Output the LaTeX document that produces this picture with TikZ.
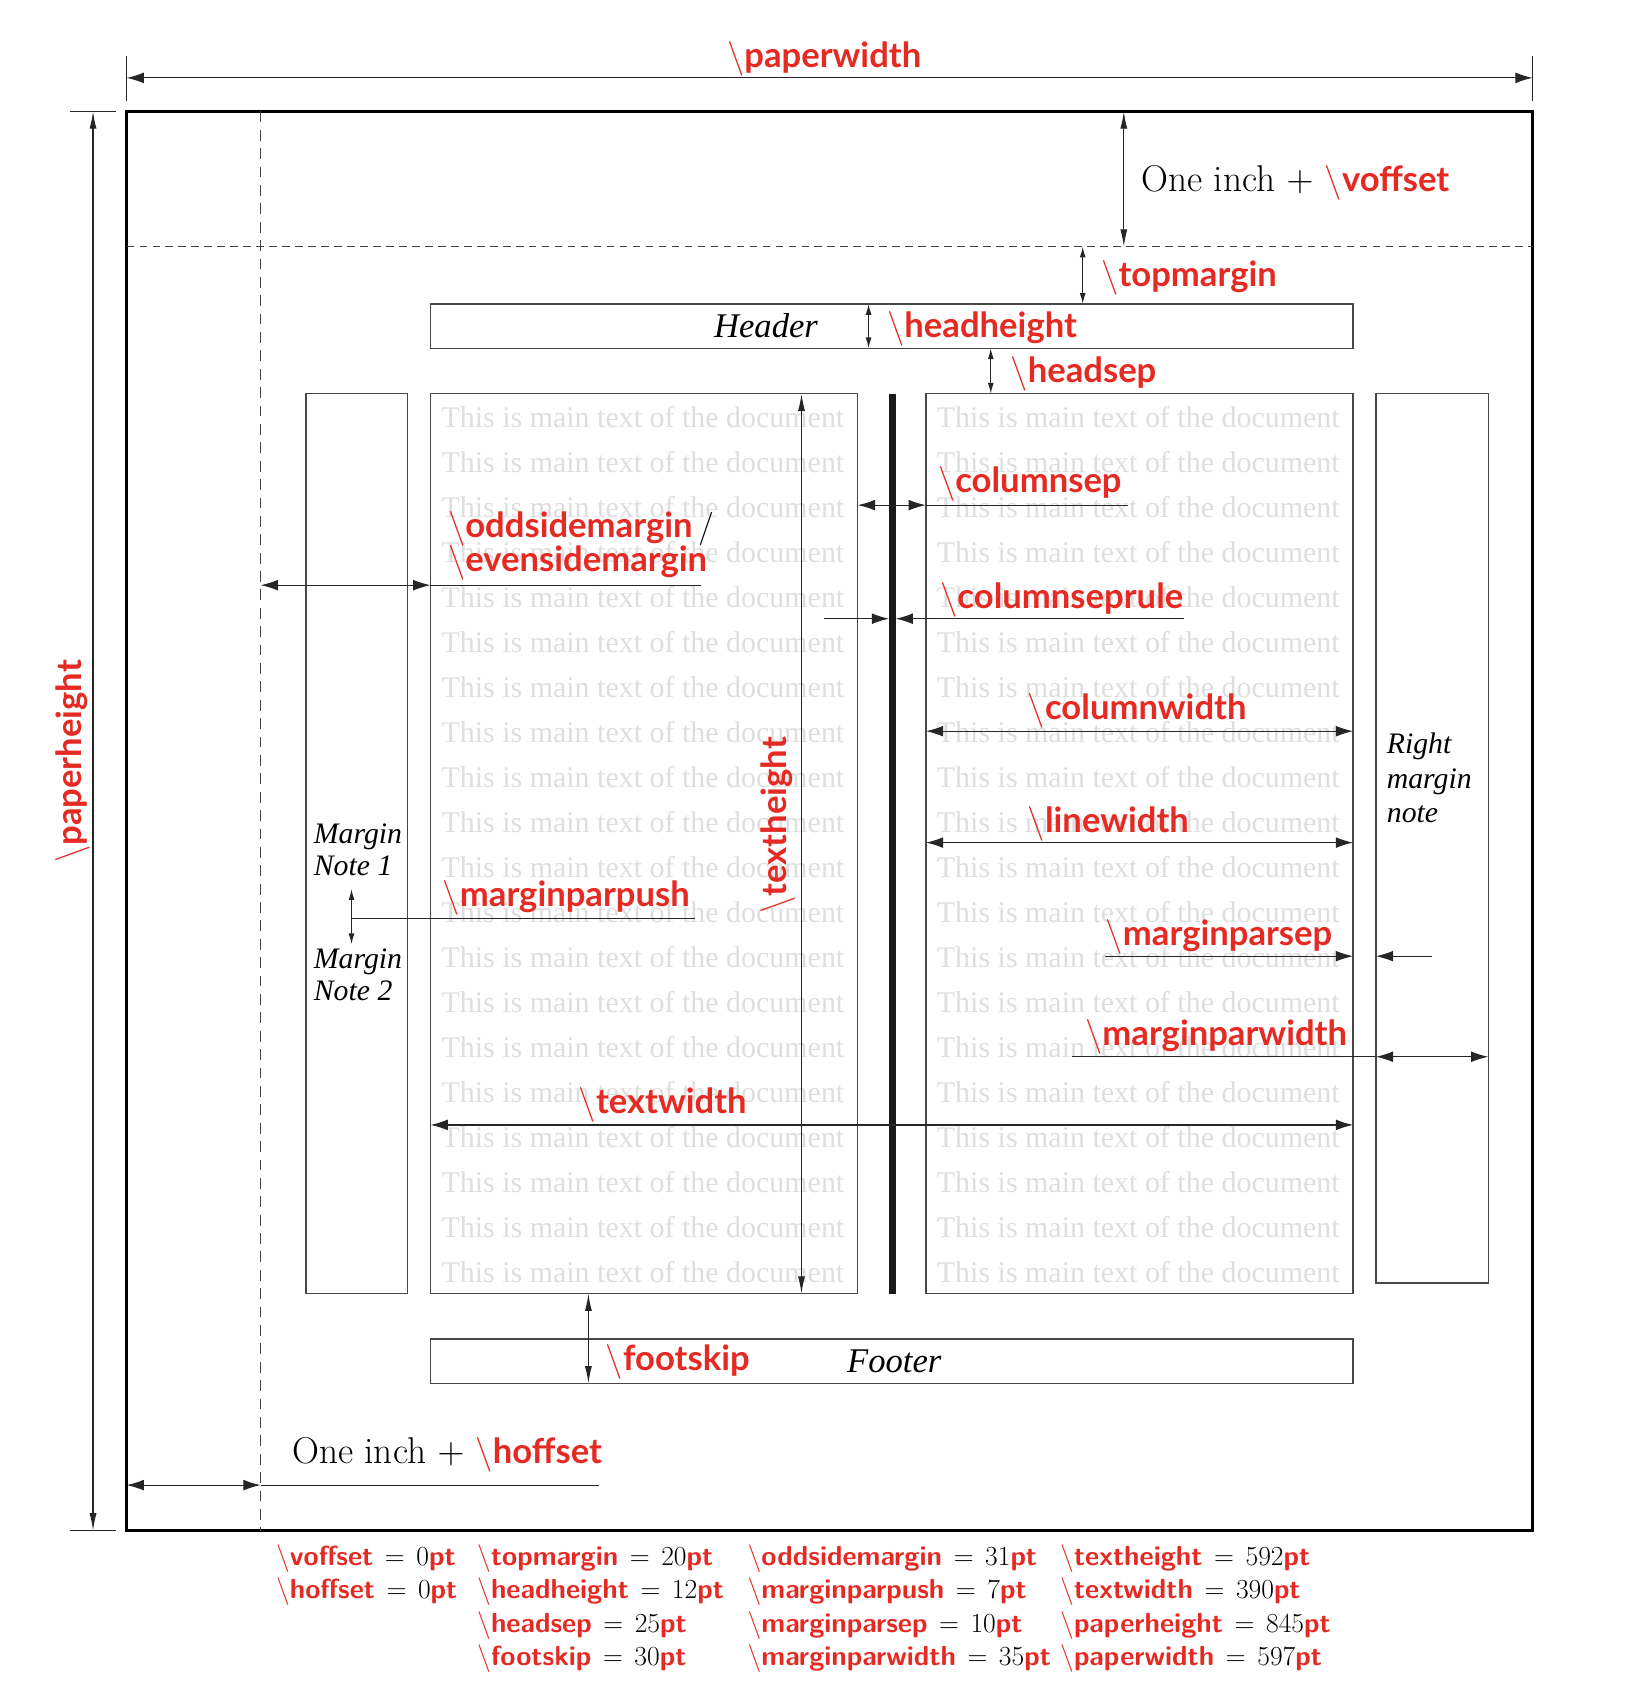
\RequirePackage{fix-cm}
\documentclass[tikz,border=0pt]{standalone}
\usepackage{fontspec}
\usetikzlibrary{arrows.meta}
\newfontfamily\lato{Lato}
\newfontfamily\tnr{Liberation Serif}
\definecolor{lred}{RGB}{228,42,34}
\newcommand\redlab[1]{{\fontsize{32}{32}\selectfont\lato\bfseries\color{lred}$\backslash$#1}}
\newcommand\tabcell[2]{{\color{lred}$\backslash$\textsf{\bfseries #1}}\hspace{0.42em}$=$\hspace{0.42em}#2{\color{lred}\textsf{\bfseries pt}}}
\tikzset{
  tH/.tip={Latex[length=16pt,width=10pt]},
  tV/.tip={Latex[length=16pt,width=6.5pt]},
  tS/.tip={Latex[length=10pt,width=5.5pt]},
  box/.style={draw=black!72, line width=1.3pt},
  dim/.style={draw=black!85, line width=1.1pt},
  maintext/.style={anchor=base west, inner sep=0pt, text=black!13, font=\fontsize{27.7}{30}\selectfont\tnr},
  note/.style={anchor=base west, inner sep=0pt, font=\fontsize{27.5}{30}\selectfont\tnr\itshape},
  hf/.style={anchor=base west, inner sep=0pt, font=\fontsize{32}{32}\selectfont\tnr\itshape},
  lab/.style={anchor=base west, inner sep=0pt, text=lred, font=\fontsize{32}{32}\selectfont\lato\bfseries},
  inch/.style={anchor=base west, inner sep=0pt, font=\fontsize{34.5}{34.5}\selectfont},
  tab/.style={anchor=base west, inner sep=0pt, font=\fontsize{25.5}{30}\selectfont},
}
\begin{document}
\begin{tikzpicture}[x=1pt,y=-1pt]
\useasboundingbox (0,0) rectangle (1512,1568);

% ---- main text lines
\foreach \k in {0,...,19}{
  \node[maintext] (tl\k) at (408,{395+41.63*\k}) {This is main text of the document};
  \node[maintext] (tr\k) at (866,{395+41.63*\k}) {This is main text of the document};
}

% ---- coordinates
\coordinate (pTL) at (117,103);
\coordinate (pBR) at (1417,1415);
\coordinate (hTL) at (398,281);
\coordinate (hBR) at (1251,322);
\coordinate (lTL) at (398,364);
\coordinate (lBR) at (793,1196);
\coordinate (rTL) at (856,364);
\coordinate (rBR) at (1251,1196);
\coordinate (mlTL) at (283,364);
\coordinate (mlBR) at (377,1196);
\coordinate (mrTL) at (1272,364);
\coordinate (mrBR) at (1376,1186);
\coordinate (fTL) at (398,1238);
\coordinate (fBR) at (1251,1279);

% ---- paper and guides
\draw[black, line width=2.4pt] (pTL) rectangle (pBR);
\draw[draw=black!75, line width=1pt, dash pattern=on 10pt off 7pt] (241,103) -- (241,1415);
\draw[draw=black!75, line width=1pt, dash pattern=on 7pt off 5pt] (117,228) -- (1417,228);

% ---- boxes
\draw[box] (hTL) rectangle (hBR);
\draw[box] (lTL) rectangle (lBR);
\draw[box] (rTL) rectangle (rBR);
\draw[box] (mlTL) rectangle (mlBR);
\draw[box] (mrTL) rectangle (mrBR);
\draw[box] (fTL) rectangle (fBR);
\draw[line width=6pt, black!90] (825,364) coordinate (cr1) -- (825,1196) coordinate (cr2);

% ---- paperwidth
\coordinate (pw1) at (117,72); \coordinate (pw2) at (1417,72);
\draw[dim] (117,52) -- (117,93);
\draw[dim] (1417,52) -- (1417,93);
\draw[dim, tH-tH] (pw1) -- (pw2);
\node[lab] (lpw) at (672,62) {$\backslash$paperwidth};

% ---- paperheight
\coordinate (ph1) at (86,103); \coordinate (ph2) at (86,1415);
\draw[dim] (65,103) -- (107,103);
\draw[dim] (65,1415) -- (107,1415);
\draw[dim, tV-tV] (ph1) -- (ph2);
\node[lab, anchor=base, rotate=90] (lph) at (75,704) {$\backslash$paperheight};

% ---- voffset
\coordinate (vo1) at (1039,103); \coordinate (vo2) at (1039,228);
\draw[dim, tV-tV] (vo1) -- (vo2);
\node[inch] (lvo) at (1055,177) {One inch $+$ \redlab{voffset}};

% ---- topmargin
\coordinate (tm1) at (1001,228); \coordinate (tm2) at (1001,281);
\draw[dim, tS-tS] (tm1) -- (tm2);
\node[lab] (ltm) at (1018,265) {$\backslash$topmargin};

% ---- header
\node[hf] (hdr) at (660,312) {Header};
\coordinate (hh1) at (803,281); \coordinate (hh2) at (803,322);
\draw[dim, tS-tS] (hh1) -- (hh2);
\node[lab] (lhh) at (820,312) {$\backslash$headheight};

% ---- headsep
\coordinate (hs1) at (916,322); \coordinate (hs2) at (916,364);
\draw[dim, tS-tS] (hs1) -- (hs2);
\node[lab] (lhs) at (934,354) {$\backslash$headsep};

% ---- textheight
\coordinate (th1) at (741,364); \coordinate (th2) at (741,1196);
\draw[dim, tV-tV] (th1) -- (th2);
\node[lab, anchor=base, rotate=90] (lth) at (727,763) {$\backslash$textheight};

% ---- oddsidemargin
\coordinate (os1) at (241,541); \coordinate (os2) at (398,541); \coordinate (os3) at (648,541);
\draw[dim, tH-tH] (os1) -- (os2);
\draw[dim] (os2) -- (os3);
\node[lab] (los) at (414,497) {$\backslash$oddsidemargin\,{\color{black}\normalfont\fontsize{31}{31}\selectfont/}};
\node[lab] (les) at (414,528) {$\backslash$evensidemargin};

% ---- columnsep
\coordinate (cs1) at (793,467); \coordinate (cs2) at (856,467); \coordinate (cs3) at (1043,467);
\draw[dim, tH-tH] (cs1) -- (cs2);
\draw[dim] (cs2) -- (cs3);
\node[lab] (lcs) at (867,455) {$\backslash$columnsep};

% ---- columnseprule
\coordinate (cr3) at (762,572); \coordinate (cr4) at (822,572);
\coordinate (cr5) at (828,572); \coordinate (cr6) at (1095,572);
\draw[dim, -tH] (cr3) -- (cr4);
\draw[dim, -tH] (cr6) -- (cr5);
\node[lab] (lcr) at (869,563) {$\backslash$columnseprule};

% ---- columnwidth / linewidth
\coordinate (cw1) at (856,676); \coordinate (cw2) at (1251,676);
\draw[dim, tH-tH] (cw1) -- (cw2);
\node[lab] (lcw) at (950,665) {$\backslash$columnwidth};
\coordinate (lw1) at (856,779); \coordinate (lw2) at (1251,779);
\draw[dim, tH-tH] (lw1) -- (lw2);
\node[lab] (llw) at (950,770) {$\backslash$linewidth};

% ---- margin notes
\node[note] (mn1a) at (290,780) {Margin};
\node[note] (mn1b) at (290,809) {Note 1};
\node[note] (mn2a) at (290,895) {Margin};
\node[note] (mn2b) at (290,925) {Note 2};
\node[note] (rn1) at (1282,697) {Right};
\node[note] (rn2) at (1282,729) {margin};
\node[note] (rn3) at (1282,760) {note};

% ---- marginparpush
\coordinate (mp1) at (325,822); \coordinate (mp2) at (325,873);
\coordinate (mp3) at (325,849); \coordinate (mp4) at (643,849);
\draw[dim, tS-tS] (mp1) -- (mp2);
\draw[dim] (mp3) -- (mp4);
\node[lab] (lmp) at (409,838) {$\backslash$marginparpush};

% ---- marginparsep
\coordinate (ms1) at (1022,884); \coordinate (ms2) at (1251,884);
\coordinate (ms3) at (1324,884); \coordinate (ms4) at (1272,884);
\draw[dim, -tH] (ms1) -- (ms2);
\draw[dim, -tH] (ms3) -- (ms4);
\node[lab] (lms) at (1022,874) {$\backslash$marginparsep};

% ---- marginparwidth
\coordinate (mw1) at (991,977); \coordinate (mw2) at (1272,977); \coordinate (mw3) at (1376,977);
\draw[dim] (mw1) -- (mw2);
\draw[dim, tH-tH] (mw2) -- (mw3);
\node[lab] (lmw) at (1003,967) {$\backslash$marginparwidth};

% ---- textwidth
\coordinate (tw1) at (398,1040); \coordinate (tw2) at (1251,1040);
\draw[dim, tH-tH] (tw1) -- (tw2);
\node[lab] (ltw) at (535,1029) {$\backslash$textwidth};

% ---- footer / footskip
\node[hf] (ftr) at (783,1269) {Footer};
\coordinate (fs1) at (544,1196); \coordinate (fs2) at (544,1279);
\draw[dim, tV-tV] (fs1) -- (fs2);
\node[lab] (lfs) at (560,1267) {$\backslash$footskip};

% ---- hoffset
\coordinate (ho1) at (117,1373); \coordinate (ho2) at (241,1373); \coordinate (ho3) at (554,1373);
\draw[dim, tH-tH] (ho1) -- (ho2);
\draw[dim] (ho2) -- (ho3);
\node[inch] (lho) at (270,1353) {One inch $+$ \redlab{hoffset}};

% ---- table
\node[tab] (t11) at (255,1447) {\tabcell{voffset}{0}};
\node[tab] (t12) at (255,1478) {\tabcell{hoffset}{0}};
\node[tab] (t21) at (441,1447) {\tabcell{topmargin}{20}};
\node[tab] (t22) at (441,1478) {\tabcell{headheight}{12}};
\node[tab] (t23) at (441,1509) {\tabcell{headsep}{25}};
\node[tab] (t24) at (441,1540) {\tabcell{footskip}{30}};
\node[tab] (t31) at (691,1447) {\tabcell{oddsidemargin}{31}};
\node[tab] (t32) at (691,1478) {\tabcell{marginparpush}{7}};
\node[tab] (t33) at (691,1509) {\tabcell{marginparsep}{10}};
\node[tab] (t34) at (691,1540) {\tabcell{marginparwidth}{35}};
\node[tab] (t41) at (980,1447) {\tabcell{textheight}{592}};
\node[tab] (t42) at (980,1478) {\tabcell{textwidth}{390}};
\node[tab] (t43) at (980,1509) {\tabcell{paperheight}{845}};
\node[tab] (t44) at (980,1540) {\tabcell{paperwidth}{597}};
\end{tikzpicture}
\end{document}
